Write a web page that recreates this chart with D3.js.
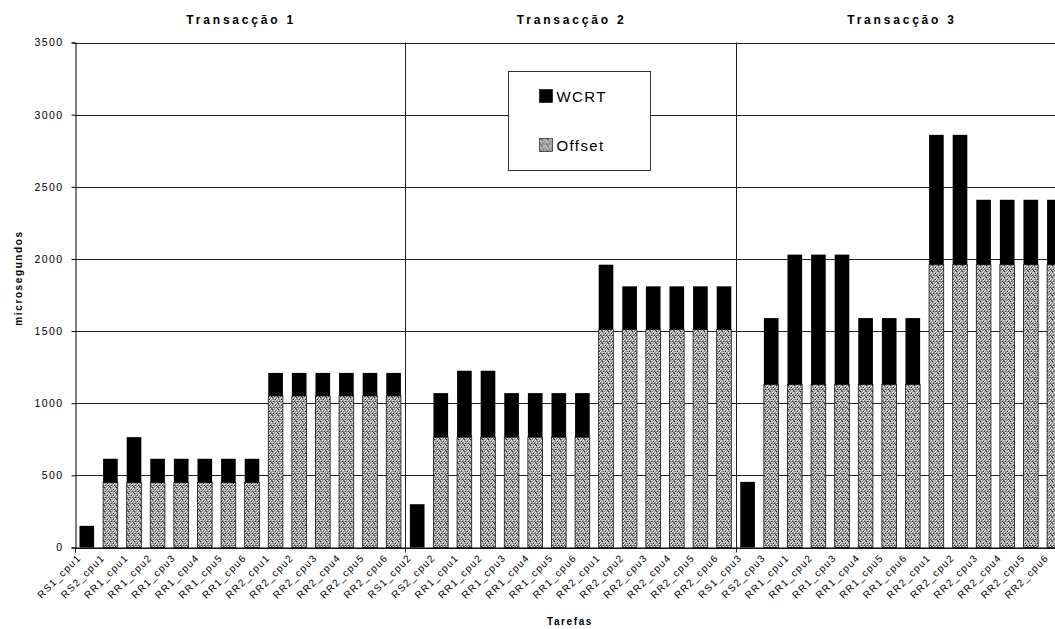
<!DOCTYPE html>
<html>
<head>
<meta charset="utf-8">
<script src="https://cdn.jsdelivr.net/npm/d3@7"></script>
<style>
  body { margin: 0; background: #fff; }
  text { font-family: "Liberation Sans", Arial, sans-serif; fill: #000; }
</style>
</head>
<body>
<svg id="chart" width="1055" height="629"></svg>
<script>
// tarefas (categorias) por transacção
let tasks = [
  "RS1_cpu1","RS2_cpu1","RR1_cpu1","RR1_cpu2","RR1_cpu3","RR1_cpu4","RR1_cpu5","RR1_cpu6",
  "RR2_cpu1","RR2_cpu2","RR2_cpu3","RR2_cpu4","RR2_cpu5","RR2_cpu6",
  "RS1_cpu2","RS2_cpu2","RR1_cpu1","RR1_cpu2","RR1_cpu3","RR1_cpu4","RR1_cpu5","RR1_cpu6",
  "RR2_cpu1","RR2_cpu2","RR2_cpu3","RR2_cpu4","RR2_cpu5","RR2_cpu6",
  "RS1_cpu3","RS2_cpu3","RR1_cpu1","RR1_cpu2","RR1_cpu3","RR1_cpu4","RR1_cpu5","RR1_cpu6",
  "RR2_cpu1","RR2_cpu2","RR2_cpu3","RR2_cpu4","RR2_cpu5","RR2_cpu6"
];
let offsets = [
  0,450,450,450,450,450,450,450,1050,1050,1050,1050,1050,1050,
  0,765,765,765,765,765,765,765,1510,1510,1510,1510,1510,1510,
  0,1130,1130,1130,1130,1130,1130,1130,1960,1960,1960,1960,1960,1960
];
// WCRT (valor total da barra)
let wcrt = [
  150,615,765,615,615,615,615,615,1210,1210,1210,1210,1210,1210,
  300,1070,1225,1225,1070,1070,1070,1070,1960,1810,1810,1810,1810,1810,
  455,1590,2030,2030,2030,1590,1590,1590,2860,2860,2410,2410,2410,2410
];
let groups = ["Transacção 1","Transacção 2","Transacção 3"];
let yTicks = [0,500,1000,1500,2000,2500,3000,3500];

let svg = d3.select("#chart");
let plotLeft = 75, plotTop = 42.5, plotBottom = 547.5, step = 23.6;
let perGroup = 14;

let x = d3.scaleBand()
  .domain(d3.range(tasks.length))
  .range([plotLeft, plotLeft + step*tasks.length])
  .paddingInner(0.38)
  .paddingOuter(0.19);
let y = d3.scaleLinear().domain([0,3500]).range([plotBottom, plotTop]);

// padrão pontilhado do offset
let defs = svg.append("defs");
let pat = defs.append("pattern").attr("id","dots")
  .attr("patternUnits","userSpaceOnUse").attr("width",6).attr("height",6);
pat.append("rect").attr("width",6).attr("height",6).attr("fill","#9a9a9a");
[[0,0,"#fff"],[3,0,"#fff"],[1,2,"#fff"],[4,2,"#fff"],[2,4,"#fff"],[5,4,"#fff"],
 [0,3,"#eee"],[5,1,"#ddd"],
 [2,1,"#222"],[5,3,"#222"],[0,5,"#333"],[3,5,"#333"],[1,0,"#444"]].forEach(p=>{
  pat.append("rect").attr("x",p[0]).attr("y",p[1]).attr("width",1).attr("height",1).attr("fill",p[2]);
});

// grelha horizontal
svg.append("g").selectAll("line").data(yTicks).join("line")
  .attr("x1",plotLeft).attr("x2",x.range()[1])
  .attr("y1",d=>Math.round(y(d))+0.5).attr("y2",d=>Math.round(y(d))+0.5)
  .attr("stroke","#222").attr("stroke-width",1);

// eixo y
let yAxis = svg.append("g").attr("transform",`translate(${plotLeft+0.5},0)`)
  .call(d3.axisLeft(y).tickValues(yTicks).tickSize(4).tickPadding(8).tickFormat(d3.format("d")));
yAxis.select(".domain").attr("stroke","#000");
yAxis.selectAll("text").attr("font-size","10.5px").attr("letter-spacing","1.4px");

// separadores entre transacções
let seps = [1,2].map(i=>x.range()[0] + i*perGroup*step);
svg.append("g").selectAll("line").data(seps).join("line")
  .attr("x1",d=>Math.round(d)+0.5).attr("x2",d=>Math.round(d)+0.5)
  .attr("y1",plotTop).attr("y2",plotBottom+5)
  .attr("stroke","#222");
svg.append("line").attr("x1",plotLeft+0.5).attr("x2",plotLeft+0.5)
  .attr("y1",plotBottom).attr("y2",plotBottom+5).attr("stroke","#000");

// barras
let bars = svg.append("g");
bars.selectAll("rect.off").data(offsets).join("rect").attr("class","off")
  .attr("x",(d,i)=>x(i)).attr("width",x.bandwidth())
  .attr("y",d=>y(d)).attr("height",d=>y(0)-y(d))
  .attr("fill","url(#dots)").attr("stroke","#111").attr("stroke-width",0.8);
bars.selectAll("rect.wcrt").data(wcrt).join("rect").attr("class","wcrt")
  .attr("x",(d,i)=>x(i)).attr("width",x.bandwidth())
  .attr("y",d=>y(d)).attr("height",(d,i)=>y(offsets[i])-y(d))
  .attr("fill","#000");

// eixo x
svg.append("line").attr("x1",plotLeft).attr("x2",x.range()[1])
  .attr("y1",plotBottom+0.5).attr("y2",plotBottom+0.5).attr("stroke","#000");
svg.append("g").selectAll("text").data(tasks).join("text")
  .attr("transform",(d,i)=>`translate(${x(i)+x.bandwidth()/2-5},${plotBottom+11}) rotate(-45)`)
  .attr("text-anchor","end")
  .attr("font-size","10px").attr("letter-spacing","1.3px")
  .style("text-rendering","geometricPrecision")
  .text(d=>d);

// títulos das transacções
svg.append("g").selectAll("text").data(groups).join("text")
  .attr("x",(d,i)=>x.range()[0] + (i+0.5)*perGroup*step + 1)
  .attr("y",24).attr("text-anchor","middle")
  .attr("font-size","12px").attr("font-weight","bold").attr("letter-spacing","2.8px")
  .text(d=>d);

// títulos dos eixos
svg.append("text").attr("x",570).attr("y",625).attr("text-anchor","middle")
  .attr("font-size","10px").attr("font-weight","bold").attr("letter-spacing","1.6px")
  .text("Tarefas");
svg.append("text").attr("transform","translate(22,278) rotate(-90)").attr("text-anchor","middle")
  .attr("font-size","10px").attr("font-weight","bold").attr("letter-spacing","1.6px")
  .text("microsegundos");

// legenda
let lg = svg.append("g").attr("transform","translate(508.5,71.5)");
lg.append("rect").attr("width",142).attr("height",99).attr("fill","#fff").attr("stroke","#333");
let legItems = [{name:"WCRT", fill:"#000"},{name:"Offset", fill:"url(#dots)"}];
lg.selectAll("g.item").data(legItems).join("g").attr("class","item")
  .attr("transform",(d,i)=>`translate(31,${18+i*49})`)
  .each(function(d){
    let g = d3.select(this);
    g.append("rect").attr("width",13).attr("height",13).attr("fill",d.fill)
      .attr("stroke","#000").attr("stroke-width",0.6);
    g.append("text").attr("x",17).attr("y",12).attr("font-size","15px")
      .attr("letter-spacing","1.4px").text(d.name);
  });
</script>
</body>
</html>
